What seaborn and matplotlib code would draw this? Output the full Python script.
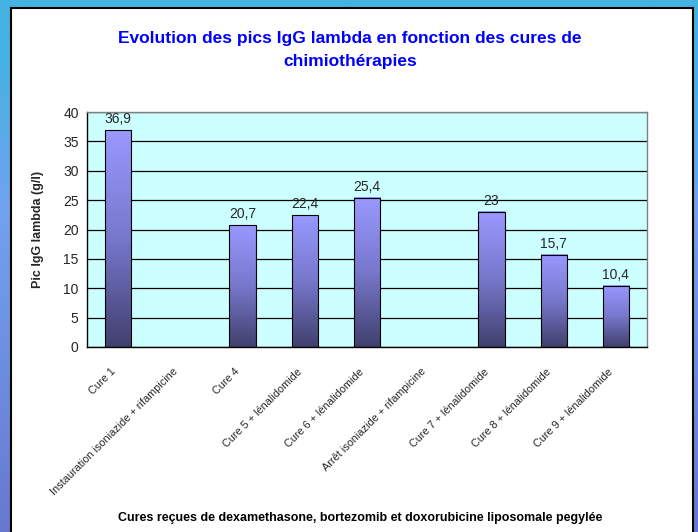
import numpy as np
import pandas as pd
import matplotlib
matplotlib.use("Agg")
import matplotlib.pyplot as plt
from matplotlib.colors import LinearSegmentedColormap
from matplotlib.patches import Rectangle
from matplotlib.transforms import ScaledTranslation
import seaborn as sns

categories = [
    "Cure 1",
    "Instauration isoniazide + rifampicine",
    "Cure 4",
    "Cure 5 + lénalidomide",
    "Cure 6 + lénalidomide",
    "Arrêt isoniazide + rifampicine",
    "Cure 7 + lénalidomide",
    "Cure 8 + lénalidomide",
    "Cure 9 + lénalidomide",
]
values = [36.9, np.nan, 20.7, 22.4, 25.4, np.nan, 23.0, 15.7, 10.4]
y_ticks = [0, 5, 10, 15, 20, 25, 30, 35, 40]

title = "Evolution des pics IgG lambda en fonction des cures de\nchimiothérapies"
x_label = "Cures reçues de dexamethasone, bortezomib et doxorubicine liposomale pegylée"
y_label = "Pic IgG lambda (g/l)"

sns.set_theme(style="white")
plt.rcParams["font.family"] = ["Liberation Sans", "DejaVu Sans"]

W, H = 698, 532
fig = plt.figure(figsize=(W / 100, H / 100), dpi=100)

# background frame gradient
bg = fig.add_axes([0, 0, 1, 1], zorder=-10)
bg_cmap = LinearSegmentedColormap.from_list(
    "bg", [(0.0, "#45B4E2"), (0.12, "#48B2E4"), (0.4, "#72A2EE"), (1.0, "#6878D0")]
)
grad = np.linspace(0, 1, 256).reshape(-1, 1)
bg.imshow(grad, cmap=bg_cmap, aspect="auto", extent=[0, 1, 0, 1], origin="upper")
bg.set_xlim(0, 1)
bg.set_ylim(0, 1)
bg.add_patch(Rectangle((11 / W, -0.05), (693 - 11) / W, (H - 8) / H + 0.05,
                       facecolor="white", edgecolor="black", linewidth=1.5,
                       transform=bg.transAxes))
bg.axis("off")

ax = fig.add_axes([87 / W, 1 - 347 / H, (647 - 87) / W, (347 - 112) / H])

df = pd.DataFrame({"cat": categories, "val": values}).dropna()
sns.barplot(data=df, x="cat", y="val", order=categories, ax=ax,
            width=0.42, color="#9999FF", edgecolor="black", linewidth=0.8)

ax.set_facecolor("#CCFFFF")
ax.set_yticks(y_ticks)
ax.set_yticklabels([str(t) for t in y_ticks], fontsize=10)
ax.yaxis.grid(True, color="black", linewidth=0.9)
ax.set_axisbelow(True)

# gradient fill for bars
bar_cmap = LinearSegmentedColormap.from_list("bar", ["#40406E", "#7777CC", "#9999FF"])
vgrad = np.linspace(0, 1, 256).reshape(-1, 1)
for p in ax.patches:
    x0 = p.get_x()
    w = p.get_width()
    h = p.get_height()
    if np.isnan(h) or h == 0:
        continue
    ax.imshow(vgrad, cmap=bar_cmap, aspect="auto", origin="lower",
              extent=[x0, x0 + w, 0, h], zorder=p.get_zorder() - 0.1)
    p.set_facecolor("none")
    p.set_zorder(p.get_zorder() + 0.5)
ax.set_ylim(0, 40)
ax.set_xlim(-0.5, len(categories) - 0.5)

for c in ax.containers:
    labels = [f"{v:g}".replace(".", ",") for v in c.datavalues]
    ax.bar_label(c, labels=labels, padding=3, fontsize=10)

# category ticks at boundaries
ax.set_xticks(np.arange(len(categories)))
ax.set_xticklabels(categories, rotation=45, ha="right", va="top",
                   rotation_mode="anchor", fontsize=7.8)
ax.tick_params(axis="x", length=0, pad=14)
offset = ScaledTranslation(-8 / 100, 0, fig.dpi_scale_trans)
for lbl in ax.get_xticklabels():
    lbl.set_transform(lbl.get_transform() + offset)
ax.set_xticks(np.arange(len(categories) + 1) - 0.5, minor=True)
ax.tick_params(axis="x", which="minor", length=4, width=0.9, color="black", direction="out")
ax.tick_params(axis="y", length=4, width=0.9, color="black", direction="out", pad=2)

for side in ["top", "right"]:
    ax.spines[side].set_color("#808080")
    ax.spines[side].set_linewidth(1)
for side in ["left", "bottom"]:
    ax.spines[side].set_color("black")
    ax.spines[side].set_linewidth(1)

ax.set_xlabel("")
ax.set_ylabel(y_label, fontsize=9, fontweight="bold", labelpad=14)

fig.text(350 / W, 1 - 50 / H, title, ha="center", va="center", fontsize=12.5,
         fontweight="bold", color="#0000FF", linespacing=1.65)
fig.text(360 / W, 1 - 518 / H, x_label, ha="center", va="center", fontsize=9,
         fontweight="bold", color="black")

fig.savefig("out.png", dpi=100)
